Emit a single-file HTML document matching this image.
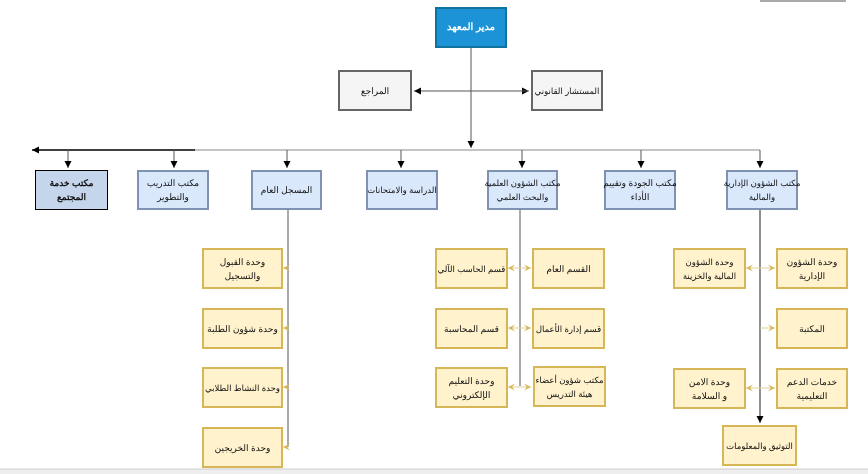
<!DOCTYPE html>
<html><head><meta charset="utf-8"><style>
body{margin:0;width:868px;height:474px;background:#fff;position:relative;overflow:hidden;font-family:"Liberation Sans","Noto Sans CJK SC",sans-serif;}
.b{position:absolute;display:flex;align-items:center;justify-content:center;text-align:center;font-size:9px;line-height:14px;letter-spacing:-0.4px;box-sizing:border-box;direction:rtl;color:#111;padding:0;white-space:nowrap;}
.g{background:#f5f5f5;border:2px solid #666;}
.bl{background:#dae8fc;border:2px solid #7f93b0;}
.y{background:#fff2cc;border:2px solid #d6b656;}
svg{position:absolute;left:0;top:0;}
</style></head><body>
<svg width="868" height="474">
<defs>
<marker id="a" markerWidth="8" markerHeight="8" refX="7" refY="4" orient="auto" markerUnits="userSpaceOnUse"><path d="M0,0.5 L7,4 L0,7.5 Z" fill="#000"/></marker>
<marker id="t" markerWidth="8" markerHeight="8" refX="7" refY="4" orient="auto" markerUnits="userSpaceOnUse"><path d="M0,0.5 L7,4 L0,7.5 L3,4Z" fill="#d6b656"/></marker>
<marker id="ts" markerWidth="8" markerHeight="8" refX="0" refY="4" orient="auto" markerUnits="userSpaceOnUse"><path d="M7,0.5 L0,4 L7,7.5 L4,4Z" fill="#d6b656"/></marker>
</defs>
<g stroke="#555" stroke-width="1" fill="none">
<line x1="471" y1="48" x2="471" y2="148" marker-end="url(#a)"/>
<line x1="414" y1="91" x2="529" y2="91" marker-end="url(#a)" />
<line x1="529" y1="91" x2="414" y2="91" marker-end="url(#a)" />
<line x1="195" y1="150" x2="760" y2="150" stroke="#888"/>
<line x1="195" y1="150" x2="32" y2="150" stroke="#000" stroke-width="1.5" marker-end="url(#a)"/>
<line x1="68" y1="150" x2="68" y2="168" marker-end="url(#a)"/>
<line x1="174" y1="150" x2="174" y2="168" marker-end="url(#a)"/>
<line x1="287" y1="150" x2="287" y2="168" marker-end="url(#a)"/>
<line x1="401" y1="150" x2="401" y2="168" marker-end="url(#a)"/>
<line x1="522" y1="150" x2="522" y2="168" marker-end="url(#a)"/>
<line x1="641" y1="150" x2="641" y2="168" marker-end="url(#a)"/>
<line x1="760" y1="150" x2="760" y2="168" marker-end="url(#a)"/>
<line x1="288" y1="210" x2="288" y2="447"/>
<line x1="520" y1="210" x2="520" y2="386"/>
<line x1="760" y1="210" x2="760" y2="423" stroke="#222" marker-end="url(#a)"/>
</g>
<g stroke="#e0cf9a" stroke-width="1">
<line x1="288" y1="268" x2="283" y2="268" marker-end="url(#t)"/>
<line x1="288" y1="328" x2="283" y2="328" marker-end="url(#t)"/>
<line x1="288" y1="387" x2="283" y2="387" marker-end="url(#t)"/>
<line x1="288" y1="447" x2="283" y2="447" marker-end="url(#t)"/>
<line x1="508" y1="268" x2="531" y2="268" marker-start="url(#ts)" marker-end="url(#t)"/>
<line x1="508" y1="328" x2="531" y2="328" marker-start="url(#ts)" marker-end="url(#t)"/>
<line x1="508" y1="387" x2="531" y2="387" marker-start="url(#ts)" marker-end="url(#t)"/>
<line x1="746" y1="268" x2="775" y2="268" marker-start="url(#ts)" marker-end="url(#t)"/>
<line x1="760" y1="328" x2="775" y2="328" marker-end="url(#t)"/>
<line x1="746" y1="388" x2="775" y2="388" marker-start="url(#ts)" marker-end="url(#t)"/>
</g>
<rect x="760" y="0" width="86" height="2" fill="#aaa"/>
<rect x="0" y="469" width="868" height="5" fill="#eee"/>
<line x1="0" y1="469" x2="868" y2="469" stroke="#ccc"/>
</svg>
<div class="b" style="left:435px;top:7px;width:72px;height:41px;background:#1c93d6;border:2px solid #10739e;color:#fff;font-weight:bold;font-size:10px">مدير المعهد</div>
<div class="b g" style="left:338px;top:70px;width:74px;height:41px">المراجع</div>
<div class="b g" style="left:531px;top:70px;width:72px;height:41px;font-size:8.5px">المستشار القانوني</div>
<div class="b" style="left:35px;top:170px;width:73px;height:40px;background:#c5d6ec;border:1.5px solid #000;font-weight:bold">مكتب خدمة<br>المجتمع</div>
<div class="b bl" style="left:137px;top:170px;width:72px;height:40px">مكتب التدريب<br>والتطوير</div>
<div class="b bl" style="left:251px;top:170px;width:71px;height:40px">المسجل العام</div>
<div class="b bl" style="left:366px;top:170px;width:72px;height:40px;font-size:8.5px">الدراسة والامتحانات</div>
<div class="b bl" style="left:487px;top:170px;width:71px;height:40px;font-size:8.5px">مكتب الشؤون العلمية<br>والبحث العلمي</div>
<div class="b bl" style="left:604px;top:170px;width:72px;height:40px">مكتب الجودة وتقييم<br>الأداء</div>
<div class="b bl" style="left:726px;top:170px;width:72px;height:40px;font-size:8.5px">مكتب الشؤون الإدارية<br>والمالية</div>
<div class="b y" style="left:202px;top:248px;width:81px;height:41px">وحدة القبول<br>والتسجيل</div>
<div class="b y" style="left:202px;top:308px;width:81px;height:41px">وحدة شؤون الطلبة</div>
<div class="b y" style="left:202px;top:367px;width:81px;height:41px;font-size:8.5px">وحدة النشاط الطلابي</div>
<div class="b y" style="left:202px;top:427px;width:81px;height:41px">وحدة الخريجين</div>
<div class="b y" style="left:435px;top:248px;width:73px;height:41px;font-size:8.5px">قسم الحاسب الآلي</div>
<div class="b y" style="left:435px;top:308px;width:73px;height:41px">قسم المحاسبة</div>
<div class="b y" style="left:435px;top:367px;width:73px;height:41px">وحدة التعليم<br>الإلكتروني</div>
<div class="b y" style="left:532px;top:248px;width:73px;height:41px">القسم العام</div>
<div class="b y" style="left:532px;top:308px;width:73px;height:41px;font-size:8.5px">قسم إدارة الأعمال</div>
<div class="b y" style="left:533px;top:366px;width:73px;height:41px;font-size:8.5px">مكتب شؤون أعضاء<br>هيئة التدريس</div>
<div class="b y" style="left:673px;top:248px;width:73px;height:41px;font-size:8.5px">وحدة الشؤون<br>المالية والخزينة</div>
<div class="b y" style="left:673px;top:368px;width:73px;height:41px">وحدة الامن<br>و السلامة</div>
<div class="b y" style="left:776px;top:248px;width:72px;height:41px">وحدة الشؤون<br>الإدارية</div>
<div class="b y" style="left:776px;top:308px;width:72px;height:41px">المكتبة</div>
<div class="b y" style="left:776px;top:368px;width:72px;height:41px">خدمات الدعم<br>التعليمية</div>
<div class="b y" style="left:722px;top:425px;width:75px;height:41px;font-size:8.5px">التوثيق والمعلومات</div>
</body></html>
